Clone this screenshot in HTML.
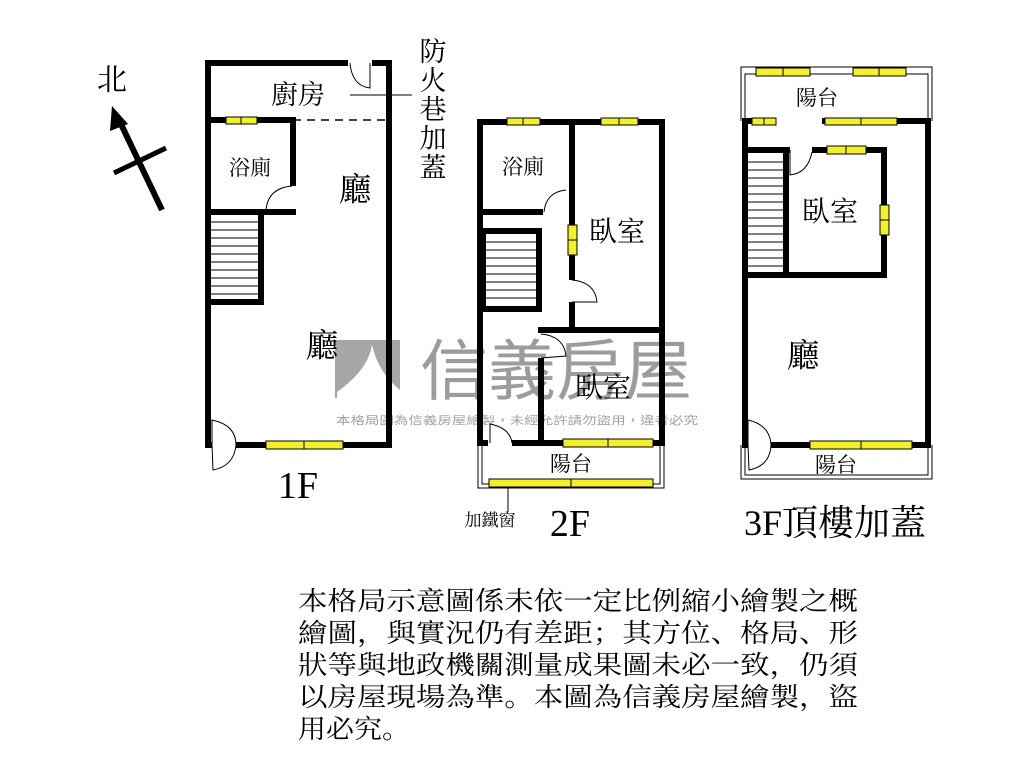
<!DOCTYPE html>
<html><head><meta charset="utf-8"><style>
html,body{margin:0;padding:0;background:#fff;}
svg{display:block;}
text{font-family:"Liberation Serif","Noto Serif CJK SC","Noto Sans CJK TC",serif;fill:#000;}
.s{font-family:"Liberation Sans","Noto Sans CJK TC",sans-serif;}
</style></head><body>
<svg width="1024" height="768" viewBox="0 0 1024 768" xmlns="http://www.w3.org/2000/svg">
<!-- watermark -->
<rect x="335" y="340" width="65" height="58" fill="#a6a6a6"/>
<path d="M337 392 Q368 370 372 345 Q378 372 400 390 L400 398 L337 398Z" fill="#fff"/>
<text x="420" y="394" class="s" font-size="66" style="fill:#9c9c9c" textLength="272" lengthAdjust="spacingAndGlyphs">信義房屋</text>
<text x="336" y="424" class="s" font-size="11" style="fill:#a0a0a0" textLength="362" lengthAdjust="spacingAndGlyphs">本格局圖為信義房屋繪製，未經允許請勿盜用，違者必究</text>

<g fill="none" stroke="#000">
<line x1="162" y1="210" x2="120" y2="122" stroke-width="6"/>
<polygon points="112,106 110,131 128,124" fill="#000" stroke="none"/>
<line x1="114" y1="173" x2="166" y2="148" stroke-width="5"/>

<!-- 1F -->
<g stroke-width="6">
<polyline points="348,63 208,63 208,445 212,445"/>
<polyline points="372,63 389,63 389,445 236,445"/>
<polyline points="208,120 293,120 293,186"/>
<line x1="208" y1="212" x2="296" y2="212"/>
<polyline points="208,302 261,302 261,212"/>
</g>
<line x1="293" y1="120" x2="386" y2="120" stroke-width="1.5" stroke-dasharray="8,6"/>
<g stroke-width="1">
<line x1="211" y1="222" x2="258" y2="222"/><line x1="211" y1="230" x2="258" y2="230"/><line x1="211" y1="238" x2="258" y2="238"/><line x1="211" y1="246" x2="258" y2="246"/><line x1="211" y1="254" x2="258" y2="254"/><line x1="211" y1="262" x2="258" y2="262"/><line x1="211" y1="270" x2="258" y2="270"/><line x1="211" y1="278" x2="258" y2="278"/><line x1="211" y1="286" x2="258" y2="286"/><line x1="211" y1="294" x2="258" y2="294"/>
<path d="M350 63 Q352 86 370 88 L370 63"/>
<path d="M292 186 Q268 188 266 210"/>
<path d="M212 445 L212 420 Q236 425 236 445 Q234 466 213 470 Z"/>
<line x1="350" y1="95" x2="412" y2="95"/>
</g>
<!-- 2F -->
<g stroke-width="6">
<rect x="480" y="122" width="182" height="321"/>
<line x1="572" y1="122" x2="572" y2="280"/>
<line x1="572" y1="302" x2="572" y2="330"/>
<line x1="480" y1="212" x2="543" y2="212"/>
<rect x="483" y="231" width="56" height="78"/>
<line x1="538" y1="330" x2="662" y2="330"/>
<line x1="541" y1="358" x2="541" y2="443"/>
</g>
<rect x="488" y="440" width="24" height="8" fill="#fff" stroke="none"/>
<g stroke-width="1">
<line x1="486" y1="242" x2="536" y2="242"/><line x1="486" y1="250" x2="536" y2="250"/><line x1="486" y1="258" x2="536" y2="258"/><line x1="486" y1="266" x2="536" y2="266"/><line x1="486" y1="274" x2="536" y2="274"/><line x1="486" y1="282" x2="536" y2="282"/><line x1="486" y1="290" x2="536" y2="290"/><line x1="486" y1="298" x2="536" y2="298"/>
<path d="M566 190 Q546 192 544 212"/>
<path d="M572 280 Q595 282 597 302 L572 302"/>
<path d="M541 334 Q564 336 566 356 L541 358"/>
<path d="M490 443 L490 424 Q510 428 512 443"/>
<polyline points="478,443 478,488 664,488 664,443"/>
<polyline points="482,443 482,484 660,484 660,443"/>
<line x1="508" y1="488" x2="508" y2="512"/>
</g>
<!-- 3F -->
<g stroke-width="6">
<polyline points="776,121 745,121 745,445 748,445"/>
<polyline points="822,121 928,121 928,445 770,445"/>
<polyline points="745,150 790,150"/>
<polyline points="812,150 884,150 884,275 745,275"/>
<line x1="786" y1="150" x2="786" y2="275"/>
</g>
<g stroke-width="1">
<polyline points="741,121 741,67 932,67 932,121"/>
<polyline points="745,121 745,74 928,74 928,121"/>
<polyline points="741,445 741,479 932,479 932,445"/>
<polyline points="745,445 745,475 928,475 928,445"/>
<line x1="748" y1="162" x2="783" y2="162"/><line x1="748" y1="170" x2="783" y2="170"/><line x1="748" y1="178" x2="783" y2="178"/><line x1="748" y1="186" x2="783" y2="186"/><line x1="748" y1="194" x2="783" y2="194"/><line x1="748" y1="202" x2="783" y2="202"/><line x1="748" y1="210" x2="783" y2="210"/><line x1="748" y1="218" x2="783" y2="218"/><line x1="748" y1="226" x2="783" y2="226"/><line x1="748" y1="234" x2="783" y2="234"/><line x1="748" y1="242" x2="783" y2="242"/><line x1="748" y1="250" x2="783" y2="250"/><line x1="748" y1="258" x2="783" y2="258"/><line x1="748" y1="266" x2="783" y2="266"/>
<path d="M790 150 L790 175 Q808 173 812 152"/>
<path d="M748 445 L748 420 Q770 425 771 445 Q770 466 749 470 Z" fill="#fff"/>
</g>
</g>
<!-- windows -->
<g fill="#f3ef2a" stroke="#000" stroke-width="1">
<rect x="226" y="117" width="31" height="7"/><rect x="266" y="441" width="77" height="8"/>
<rect x="507" y="118" width="33" height="7"/><rect x="601" y="118" width="37" height="7"/>
<rect x="568" y="225" width="9" height="30"/><rect x="563" y="439" width="90" height="8"/>
<rect x="489" y="479" width="164" height="8"/>
<rect x="756" y="68" width="54" height="8"/><rect x="853" y="68" width="53" height="8"/>
<rect x="752" y="118" width="24" height="7"/><rect x="825" y="118" width="72" height="7"/>
<rect x="827" y="146" width="39" height="8"/><rect x="880" y="205" width="9" height="30"/>
<rect x="810" y="441" width="102" height="8"/>
</g>
<g stroke="#000" stroke-width="1">
<line x1="241" y1="117" x2="241" y2="124"/><line x1="304" y1="441" x2="304" y2="449"/>
<line x1="523" y1="118" x2="523" y2="125"/><line x1="619" y1="118" x2="619" y2="125"/>
<line x1="568" y1="240" x2="577" y2="240"/><line x1="608" y1="439" x2="608" y2="447"/>
<line x1="571" y1="479" x2="571" y2="487"/><line x1="783" y1="68" x2="783" y2="76"/><line x1="879" y1="68" x2="879" y2="76"/>
<line x1="764" y1="118" x2="764" y2="125"/><line x1="861" y1="118" x2="861" y2="125"/><line x1="846" y1="146" x2="846" y2="154"/>
<line x1="880" y1="220" x2="889" y2="220"/><line x1="861" y1="441" x2="861" y2="449"/>
</g>
<!-- labels -->
<text x="112" y="90" font-size="30" text-anchor="middle">北</text>
<text x="298" y="104" font-size="27" text-anchor="middle">廚房</text>
<text x="250" y="175" font-size="21" text-anchor="middle">浴廁</text>
<text x="355" y="201" font-size="33" text-anchor="middle">廳</text>
<text x="322" y="357" font-size="33" text-anchor="middle">廳</text>
<text x="298" y="498" font-size="38" text-anchor="middle">1F</text>
<g font-size="27" text-anchor="middle">
<text x="433" y="61">防</text><text x="433" y="90">火</text><text x="433" y="119">巷</text><text x="433" y="148">加</text><text x="433" y="177">蓋</text>
</g>
<text x="523" y="174" font-size="21" text-anchor="middle">浴廁</text>
<text x="617" y="241" font-size="28" text-anchor="middle">臥室</text>
<text x="603" y="397" font-size="28" text-anchor="middle">臥室</text>
<text x="571" y="471" font-size="21" text-anchor="middle">陽台</text>
<text x="490" y="526" font-size="17" text-anchor="middle">加鐵窗</text>
<text x="570" y="536" font-size="38" text-anchor="middle">2F</text>
<text x="817" y="105" font-size="21" text-anchor="middle">陽台</text>
<text x="830" y="221" font-size="28" text-anchor="middle">臥室</text>
<text x="803" y="367" font-size="33" text-anchor="middle">廳</text>
<text x="836" y="472" font-size="21" text-anchor="middle">陽台</text>
<text x="835" y="535" font-size="36" text-anchor="middle">3F頂樓加蓋</text>
<g font-size="26">
<text x="298" y="610" textLength="560" lengthAdjust="spacingAndGlyphs">本格局示意圖係未依一定比例縮小繪製之概</text>
<text x="298" y="642" textLength="560" lengthAdjust="spacingAndGlyphs">繪圖，與實況仍有差距；其方位、格局、形</text>
<text x="298" y="674" textLength="560" lengthAdjust="spacingAndGlyphs">狀等與地政機關測量成果圖未必一致，仍須</text>
<text x="298" y="706" textLength="560" lengthAdjust="spacingAndGlyphs">以房屋現場為準。本圖為信義房屋繪製，盜</text>
<text x="298" y="738" textLength="112" lengthAdjust="spacingAndGlyphs">用必究。</text>
</g>
</svg>
</body></html>
